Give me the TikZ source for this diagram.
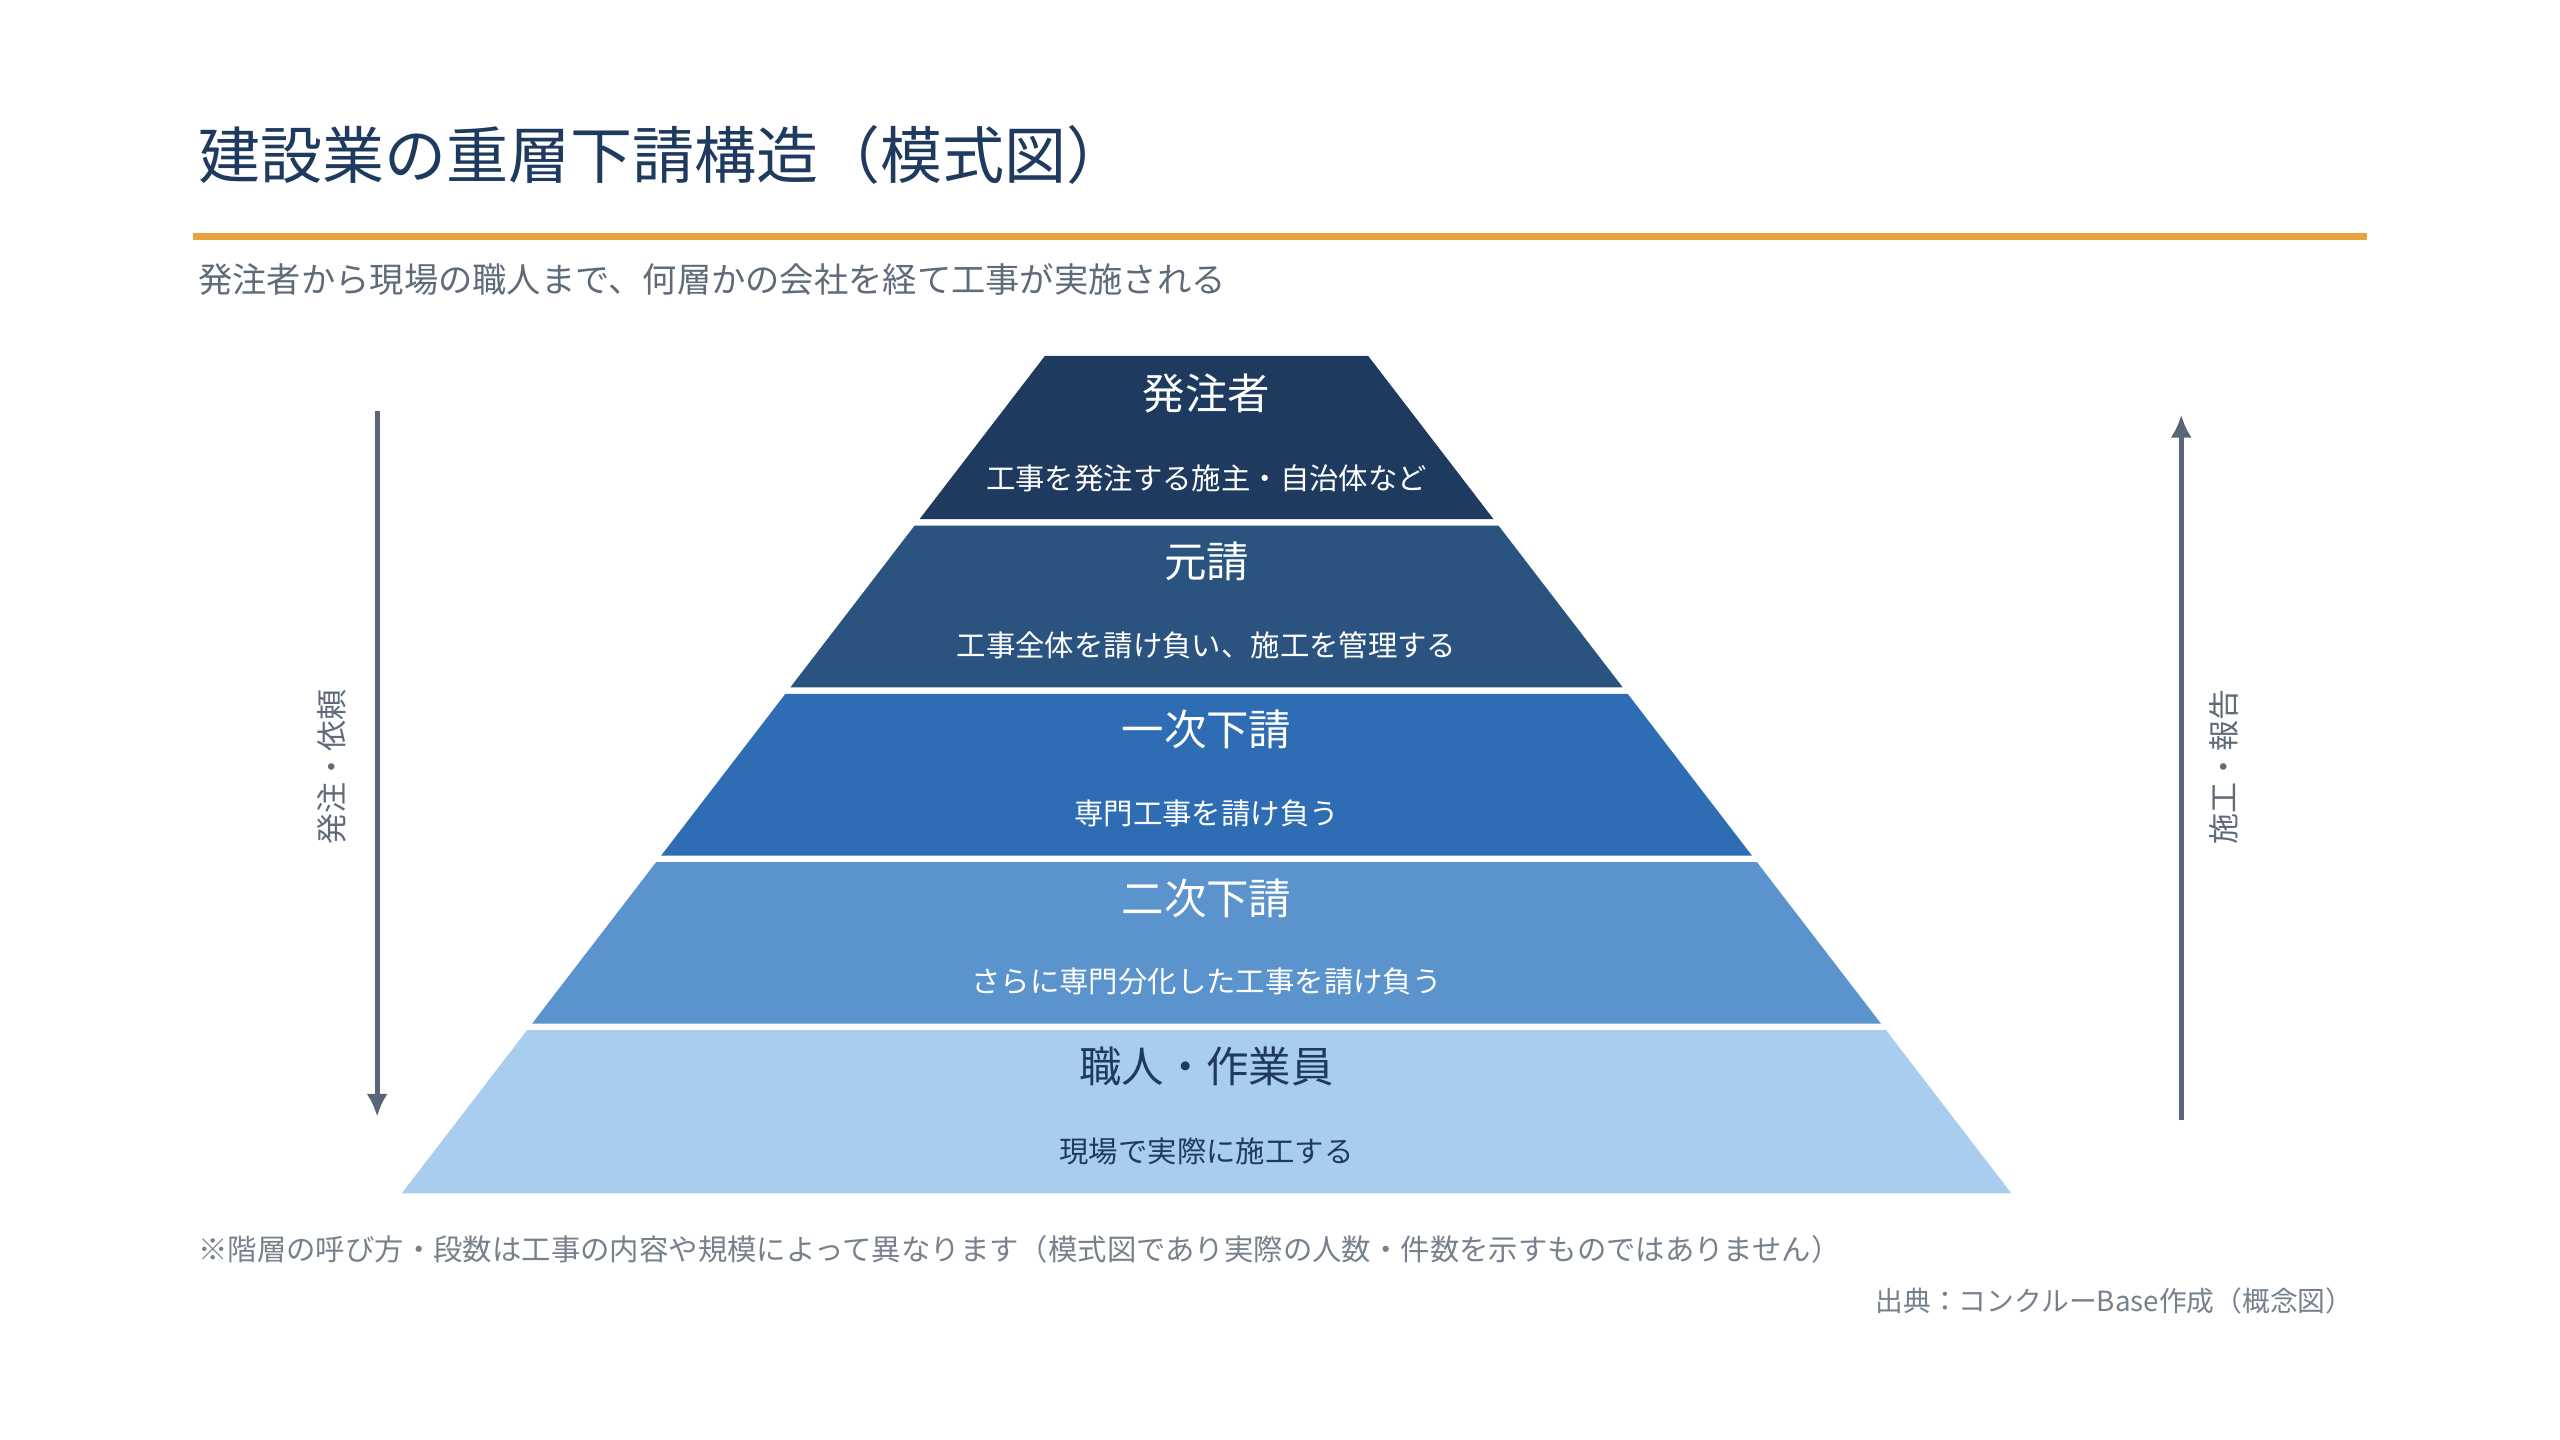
\documentclass[tikz,border=0pt]{standalone}
\usepackage{fontspec}
\setmainfont{Noto Sans CJK JP}
\usetikzlibrary{arrows.meta}
\definecolor{navy}{HTML}{1F3A5F}
\definecolor{cA}{HTML}{1F3A5F}
\definecolor{cB}{HTML}{2B5380}
\definecolor{cC}{HTML}{2E6DB4}
\definecolor{cD}{HTML}{5B93CC}
\definecolor{cE}{HTML}{A9CDEF}
\definecolor{grayt}{HTML}{5F6B7A}
\definecolor{arr}{HTML}{5A6578}
\definecolor{orng}{HTML}{E8A33D}
\begin{document}
\begin{tikzpicture}[x=1pt,y=-1pt,
  lt/.style={font=\fontsize{26}{30}\selectfont},
  ld/.style={font=\fontsize{18}{22}\selectfont},
  flow/.style={draw=arr,line width=3pt,-{Latex[length=14pt,width=13pt]}},
  side/.style={text=grayt,font=\fontsize{19}{22}\selectfont,rotate=90}]
\useasboundingbox (0,0) rectangle (1568,882);
\fill[white] (0,0) rectangle (1568,882);
\node[anchor=west,text=navy,font=\fontsize{38}{44}\selectfont] (title) at (118,95) {建設業の重層下請構造（模式図）};
\draw[orng,line width=4pt] (118,145) -- (1450,145);
\node[anchor=west,text=grayt,font=\fontsize{21}{25}\selectfont] (sub) at (118,171) {発注者から現場の職人まで、何層かの会社を経て工事が実施される};
\def\L#1{640-0.768*(#1-218)}
\def\R#1{838+0.768*(#1-218)}
\foreach \t/\b/\c in {218/318/cA,322/421/cB,425/524/cC,528/627/cD,631/731/cE}{
  \fill[\c] ({\L{\t}},\t) -- ({\R{\t}},\t) -- ({\R{\b}},\b) -- ({\L{\b}},\b) -- cycle;}
\node[lt,text=white] (t1) at (739,241) {発注者};
\node[ld,text=white] (d1) at (739,293) {工事を発注する施主・自治体など};
\node[lt,text=white] (t2) at (739,344) {元請};
\node[ld,text=white] (d2) at (739,395) {工事全体を請け負い、施工を管理する};
\node[lt,text=white] (t3) at (739,447) {一次下請};
\node[ld,text=white] (d3) at (739,498) {専門工事を請け負う};
\node[lt,text=white] (t4) at (739,550) {二次下請};
\node[ld,text=white] (d4) at (739,601) {さらに専門分化した工事を請け負う};
\node[lt,text=navy] (t5) at (739,653) {職人・作業員};
\node[ld,text=navy] (d5) at (739,705) {現場で実際に施工する};
\coordinate (a1) at (231,252); \coordinate (a2) at (231,684);
\draw[flow] (a1) -- (a2);
\coordinate (b1) at (1336,686); \coordinate (b2) at (1336,254);
\draw[flow] (b1) -- (b2);
\node[side] (sl) at (203,470) {発注・依頼};
\node[side] (sr) at (1362,470) {施工・報告};
\node[anchor=west,text=grayt!85,font=\fontsize{18}{22}\selectfont] (note) at (118,765) {※階層の呼び方・段数は工事の内容や規模によって異なります（模式図であり実際の人数・件数を示すものではありません）};
\node[anchor=east,text=grayt!85,font=\fontsize{17}{21}\selectfont] (src) at (1445,797) {出典：コンクルーBase作成（概念図）};
\end{tikzpicture}
\end{document}
